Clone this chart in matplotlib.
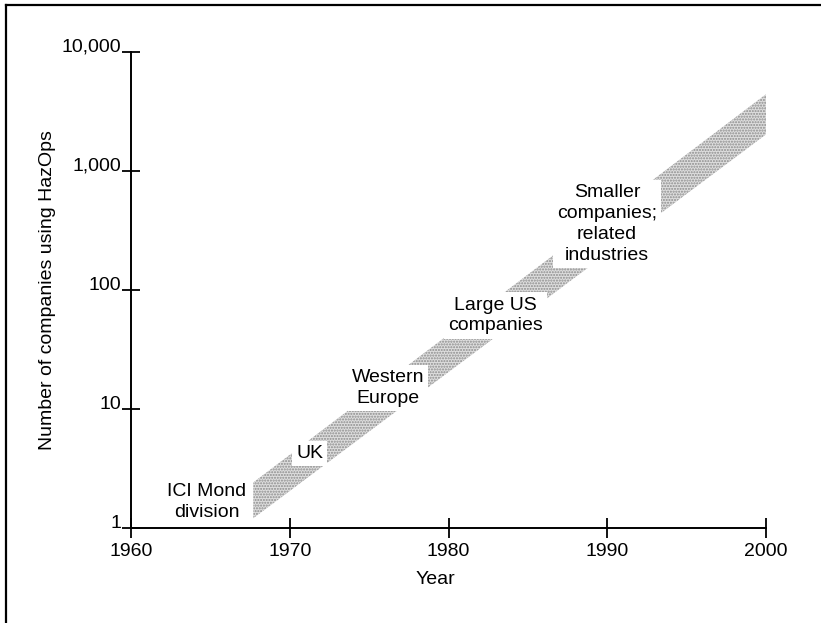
import numpy as np
import matplotlib
matplotlib.use("Agg")
import matplotlib.pyplot as plt
from matplotlib.lines import Line2D

plt.rcParams['font.family'] = ['Liberation Sans', 'DejaVu Sans']
plt.rcParams['hatch.linewidth'] = 1.0

# band of adoption (ends)
band_years = [1967.7, 2000]
band_low = [1.2, 2020]
band_high = [2.4, 4400]

yticks = [1, 10, 100, 1000, 10000]
ytick_labels = ['1', '10', '100', '1,000', '10,000']
xticks = [1960, 1970, 1980, 1990, 2000]

# stage labels: text, year, value
labels = ['ICI Mond\ndivision', 'UK', 'Western\nEurope', 'Large US\ncompanies',
          'Smaller\ncompanies;\nrelated\nindustries']
label_years = [1964.76, 1971.25, 1976.19, 1982.94, 1989.99]
label_vals = [1.63, 4.19, 14.8, 60.7, 358]

fig = plt.figure(figsize=(8.21, 6.23), dpi=100)
ax = fig.add_axes([0.1596, 0.153, 0.7735, 0.764])

ax.fill_between(band_years, band_low, band_high, facecolor='#dedede',
                hatch='......', edgecolor='#8c8c8c', linewidth=0, zorder=1)

for txt, xx, yy in zip(labels, label_years, label_vals):
    ax.text(xx, yy, txt, ha='center', va='center', multialignment='center',
            fontsize=14, linespacing=1.3, zorder=3,
            bbox=dict(facecolor='white', edgecolor='none', pad=3))

ax.set_yscale('log')
ax.set_xlim(1960, 2000)
ax.set_ylim(1, 10000)
ax.set_yticks(yticks)
ax.set_yticklabels(ytick_labels)
ax.yaxis.set_minor_locator(matplotlib.ticker.NullLocator())
ax.set_xticks(xticks)
ax.tick_params(axis='y', direction='inout', length=13, width=1.3, pad=0.8, labelsize=14)
ax.tick_params(axis='x', direction='inout', length=14, width=1.3, pad=4.3, labelsize=14)
plt.setp(ax.get_yticklabels(), va='baseline')

for s in ['top', 'right']:
    ax.spines[s].set_visible(False)
for s in ['left', 'bottom']:
    ax.spines[s].set_linewidth(1.4)

ax.set_xlabel('Year', fontsize=14)
ax.xaxis.set_label_coords(0.48, -0.092)
ax.set_ylabel('Number of companies using HazOps', fontsize=14)
ax.yaxis.set_label_coords(-0.118, 0.5)

# frame lines of the scanned page
fig.add_artist(Line2D([0.0073, 0.0073], [0, 0.992], color='black', lw=1.6, transform=fig.transFigure))
fig.add_artist(Line2D([0.0073, 1], [0.992, 0.992], color='black', lw=1.6, transform=fig.transFigure))

fig.savefig('out.png', dpi=100)
